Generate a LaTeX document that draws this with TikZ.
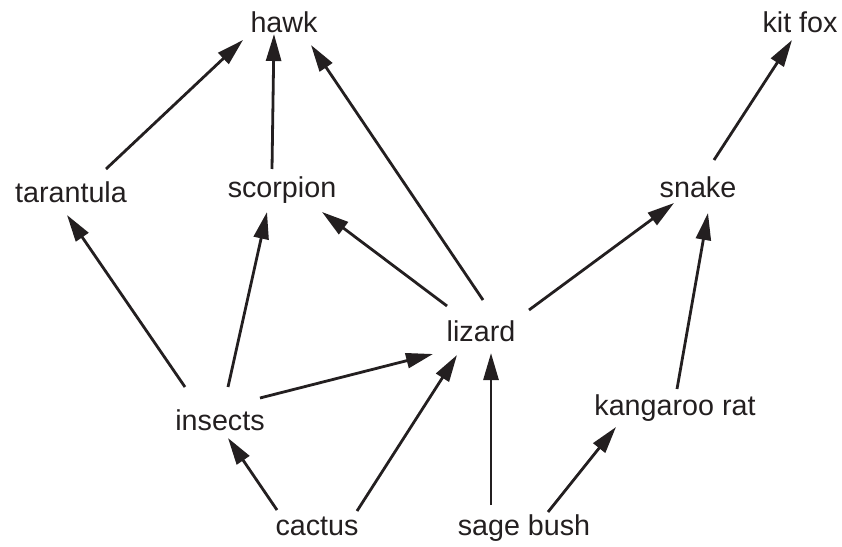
\documentclass[tikz,border=0pt]{standalone}
\usepackage{fontspec}
\setmainfont{Liberation Sans}
\usetikzlibrary{arrows.meta}
\definecolor{ink}{RGB}{35,31,32}
\begin{document}
\begin{tikzpicture}[x=1pt,y=-1pt,
  lbl/.style={anchor=base,inner sep=0pt,text=ink,font=\fontsize{28.7}{34}\selectfont},
  arr/.style={draw=ink,line width=2.8pt,-{Triangle[length=27pt,width=15pt]}}]
\useasboundingbox (0,0) rectangle (842,546);
\node[lbl] (hawk) at (284,32) {hawk};
\node[lbl] (kitfox) at (800,32) {kit fox};
\node[lbl] (tarantula) at (71,202) {tarantula};
\node[lbl] (scorpion) at (282,197) {scorpion};
\node[lbl] (snake) at (698,197) {snake};
\node[lbl] (lizard) at (481,341) {lizard};
\node[lbl] (insects) at (220,430) {insects};
\node[lbl] (krat) at (675,415) {kangaroo rat};
\node[lbl] (cactus) at (317,535) {cactus};
\node[lbl] (sage) at (524,535) {sage bush};

\draw[arr] ([shift={(35,-33)}]tarantula.base) -- ([shift={(-41,8)}]hawk.base);
\draw[arr] ([shift={(-10,-28)}]scorpion.base) -- ([shift={(-10,2)}]hawk.base);
\draw[arr] ([shift={(2,-41)}]lizard.base) -- ([shift={(27,13)}]hawk.base);
\draw[arr] ([shift={(-35,-43)}]insects.base) -- ([shift={(-4,13)}]tarantula.base);
\draw[arr] ([shift={(8,-43)}]insects.base) -- ([shift={(-15,15)}]scorpion.base);
\draw[arr] ([shift={(-34,-35)}]lizard.base) -- ([shift={(40,15)}]scorpion.base);
\draw[arr] ([shift={(40,-32)}]insects.base) -- ([shift={(-48,13)}]lizard.base);
\draw[arr] ([shift={(-40,-25)}]cactus.base) -- ([shift={(8,8)}]insects.base);
\draw[arr] ([shift={(40,-24)}]cactus.base) -- ([shift={(-24,14)}]lizard.base);
\draw[arr] ([shift={(-33,-30)}]sage.base) -- ([shift={(10,12)}]lizard.base);
\draw[arr] ([shift={(24,-23)}]sage.base) -- ([shift={(-59,12)}]krat.base);
\draw[arr] ([shift={(2,-26)}]krat.base) -- ([shift={(10,16)}]snake.base);
\draw[arr] ([shift={(48,-31)}]lizard.base) -- ([shift={(-24,6)}]snake.base);
\draw[arr] ([shift={(16,-37)}]snake.base) -- ([shift={(-8,8)}]kitfox.base);
\end{tikzpicture}
\end{document}
